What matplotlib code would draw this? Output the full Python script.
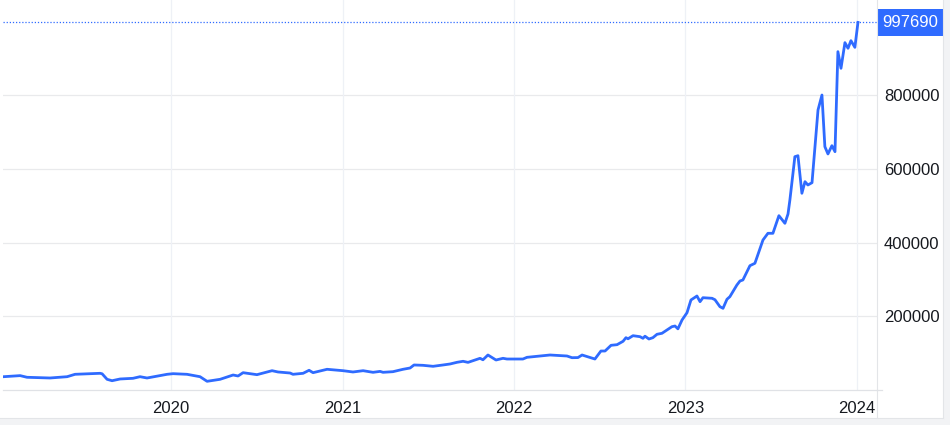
import matplotlib
matplotlib.use("Agg")
import matplotlib.pyplot as plt
from matplotlib.lines import Line2D
from matplotlib.patches import Rectangle
import matplotlib.transforms as mtransforms

# ---------------------------------------------------------------------------
# Data (decimal year, value)
# ---------------------------------------------------------------------------
years = [
    2019.020, 2019.120, 2019.160, 2019.294, 2019.394, 2019.440, 2019.586, 2019.598,
    2019.627, 2019.656, 2019.703, 2019.778, 2019.819, 2019.860, 2019.977, 2020.012,
    2020.093, 2020.169, 2020.210, 2020.286, 2020.362, 2020.391, 2020.420, 2020.501,
    2020.589, 2020.624, 2020.694, 2020.711, 2020.770, 2020.805, 2020.828, 2020.910,
    2021.003, 2021.061, 2021.120, 2021.178, 2021.219, 2021.236, 2021.294, 2021.353,
    2021.394, 2021.417, 2021.469, 2021.528, 2021.586, 2021.627, 2021.668, 2021.703,
    2021.732, 2021.802, 2021.819, 2021.848, 2021.895, 2021.936, 2021.959, 2022.052,
    2022.076, 2022.210, 2022.309, 2022.338, 2022.373, 2022.397, 2022.472, 2022.507,
    2022.531, 2022.566, 2022.601, 2022.636, 2022.653, 2022.665, 2022.694, 2022.735,
    2022.752, 2022.764, 2022.787, 2022.810, 2022.834, 2022.863, 2022.921, 2022.939,
    2022.956, 2022.980, 2023.009, 2023.032, 2023.067, 2023.085, 2023.102, 2023.155,
    2023.172, 2023.201, 2023.219, 2023.242, 2023.259, 2023.300, 2023.318, 2023.335,
    2023.376, 2023.405, 2023.452, 2023.481, 2023.510, 2023.545, 2023.580, 2023.598,
    2023.609, 2023.627, 2023.638, 2023.656, 2023.679, 2023.697, 2023.714, 2023.738,
    2023.773, 2023.796, 2023.813, 2023.831, 2023.854, 2023.872, 2023.889, 2023.907,
    2023.930, 2023.948, 2023.965, 2023.988, 2024.006,
]
values = [
    36000, 39000, 34500, 32600, 36100, 42600, 45300, 44000,
    29000, 25200, 29900, 31700, 36100, 32600, 42600, 44300,
    42600, 36100, 23600, 29000, 40700, 38000, 47000, 41600,
    52400, 48900, 46100, 42600, 45300, 53500, 47000, 56200,
    52400, 48900, 52400, 48000, 50500, 48000, 49700, 56200,
    59700, 67900, 67000, 64300, 67900, 70600, 75200, 77900,
    75000, 86000, 82000, 95000, 81400, 86000, 84100, 84100,
    88700, 95000, 92300, 87700, 88000, 95000, 84100, 105800,
    105800, 121300, 123000, 132200, 142000, 139000, 147400, 144700,
    140300, 146000, 138400, 142000, 151200, 153900, 171800, 173700,
    166000, 190000, 209800, 244300, 255100, 239700, 250500, 248900,
    245000, 226100, 221700, 246200, 253300, 285000, 295900, 298600,
    337400, 343900, 407100, 425300, 425300, 473100, 452400, 477700,
    515700, 588200, 633200, 635900, 533900, 565400, 556400, 562700,
    760000, 800600, 660400, 640600, 663100, 646800, 918300, 873100,
    942700, 927400, 948100, 930000, 997690,
]

year_ticks = [2020, 2021, 2022, 2023, 2024]
value_ticks = [200000, 400000, 600000, 800000]
last_label = "997690"

# ---------------------------------------------------------------------------
# Style
# ---------------------------------------------------------------------------
BLUE = "#2f6bff"
TXT = "#16191f"
W, H = 950, 425

plt.rcParams["font.family"] = ["Liberation Sans", "DejaVu Sans"]

fig = plt.figure(figsize=(W / 100, H / 100), dpi=100)
fig.patch.set_facecolor("white")

# light grey frame strips at the bottom and right edge
fig.patches.append(Rectangle((0, 0), 1, 7 / H, transform=fig.transFigure,
                             facecolor="#f2f3f5", edgecolor="none", zorder=0))
fig.patches.append(Rectangle((943 / W, 0), 7 / W, 1, transform=fig.transFigure,
                             facecolor="#f2f3f5", edgecolor="none", zorder=0))
fig.lines.append(Line2D([0, 943 / W], [7 / H, 7 / H], transform=fig.transFigure,
                        color="#e3e5e8", lw=0.8))
fig.lines.append(Line2D([943 / W, 943 / W], [7 / H, 1], transform=fig.transFigure,
                        color="#e3e5e8", lw=0.8))

ax = fig.add_axes([3 / W, 35 / H, 874 / W, 390 / H])
ax.set_facecolor("none")

ax.plot(years, values, color=BLUE, lw=2.0, solid_joinstyle="round", zorder=3)

ax.set_xlim(2019.020, 2024.117)
ax.set_ylim(0, 1058460)

# grid
for yv in value_ticks:
    ax.axhline(yv, color="#e9eaec", lw=0.9, zorder=1)
for xv in year_ticks:
    ax.axvline(xv, color="#eef1f6", lw=0.9, zorder=1)

# axes lines
for s in ["top", "left", "right"]:
    ax.spines[s].set_visible(False)
ax.spines["bottom"].set_color("#e0e2e6")
ax.spines["bottom"].set_linewidth(0.9)
fig.lines.append(Line2D([877 / W, 877 / W], [7 / H, 1], transform=fig.transFigure,
                        color="#e3e5e8", lw=0.8))
fig.lines.append(Line2D([877 / W, 882 / W], [35 / H, 35 / H], transform=fig.transFigure,
                        color="#e0e2e6", lw=0.9))

ax.set_xticks(year_ticks)
ax.set_xticklabels([str(y) for y in year_ticks])
ax.yaxis.tick_right()
ax.set_yticks(value_ticks)
ax.set_yticklabels([str(v) for v in value_ticks])
ax.tick_params(axis="x", length=0, pad=8, labelsize=12, labelcolor=TXT)
ax.tick_params(axis="y", length=0, pad=5, labelsize=12, labelcolor=TXT)

# last value marker: dotted line and label box
ax.axhline(values[-1], color=BLUE, lw=0.9, ls=(0, (1, 1.5)), zorder=2)
trans = mtransforms.blended_transform_factory(ax.transAxes, ax.transData)
ax.text(1.0 + 5.5 / 874, values[-1], last_label, transform=trans, ha="left", va="center",
        fontsize=12, color="white", clip_on=False, zorder=5,
        bbox=dict(boxstyle="square,pad=0.35", facecolor=BLUE, edgecolor="none"))

fig.savefig("out.png", dpi=100)
